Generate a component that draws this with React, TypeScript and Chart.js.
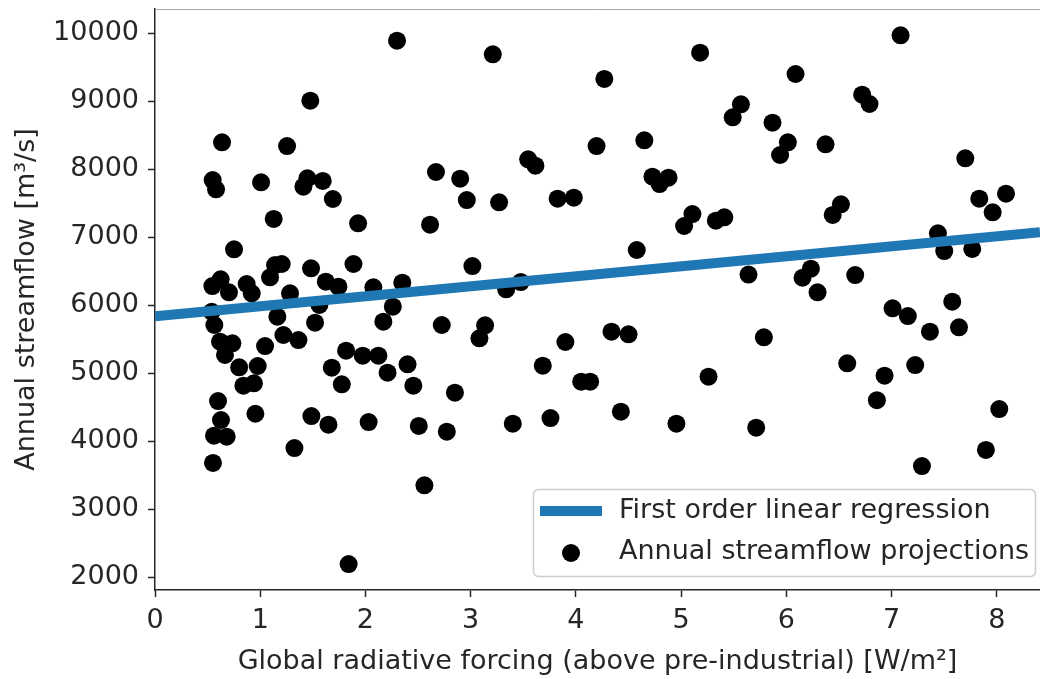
import React, { useEffect, useRef } from "react";
import { Chart, registerables } from "chart.js";

Chart.register(...registerables);

// Global radiative forcing above pre-industrial [W/m²]
const forcing = [
  2.3, 1.476, 0.637, 1.255, 2.67, 0.548, 0.58, 1.008, 1.448, 1.41, 1.594, 1.69,
  3.21, 5.18, 4.27, 5.568, 5.49, 4.196, 4.65, 3.546, 3.615, 2.9, 4.727, 4.88,
  4.795, 2.963, 3.27, 3.826, 3.98,
  7.085, 6.087, 6.72, 6.79, 5.868, 6.014, 5.94, 6.372, 7.7, 8.087, 7.833, 7.96,
  6.518, 6.44,
  7.44, 7.5, 7.766, 5.64, 6.233, 6.153, 6.296, 6.654, 7.009, 7.154, 7.576, 7.364,
  7.64, 5.786, 6.578, 6.933, 7.224, 6.86,
  5.713, 7.288, 7.896, 8.023,
  5.107, 5.028, 5.33, 5.41, 4.578, 3.016, 3.476, 3.337, 3.137, 3.083, 3.9, 4.338,
  4.5, 3.685, 4.05, 4.135, 5.26, 2.85,
  2.773, 3.4, 3.758, 4.427, 4.955,
  0.599, 0.627, 0.561, 0.681, 0.551, 0.954, 1.486, 1.648, 2.03, 1.325, 2.507,
  2.56, 1.84,
  1.128, 1.93, 2.614, 0.751, 0.545, 0.624, 0.703, 0.871, 0.919, 1.093, 1.141,
  1.204, 1.283, 1.483, 1.623, 1.743, 1.886, 2.075, 2.35, 2.26, 1.562, 0.539,
  0.564, 1.163, 1.521, 2.17, 2.725, 0.618, 0.735, 0.665, 1.046, 1.22, 1.363,
  0.8, 0.976, 0.84, 0.94, 1.68, 1.816, 1.974, 2.123, 2.21, 2.4, 2.455, 1.775,
];

// Annual streamflow [m³/s], paired with forcing above
const streamflow = [
  9887, 9004, 8393, 8338, 7956, 7838, 7701, 7804, 7863, 7740, 7824, 7559,
  9687, 9711, 9324, 8951, 8760, 8338, 8422, 8143, 8049, 7857, 7887, 7872,
  7779, 7544, 7510, 7564, 7578,
  9966, 9397, 9093, 8956, 8681, 8393, 8206, 8363, 8157, 7637, 7564, 7363,
  7480, 7324,
  7054, 6794, 6824, 6448, 6534, 6401, 6187, 6441, 5951, 5838, 6049, 5607,
  5672, 5525, 5143, 4960, 5117, 4600,
  4196, 3632, 3868, 4470,
  7338, 7162, 7240, 7290, 6809, 6573, 6338, 6231, 5701, 5510, 5456, 5607,
  5569, 5107, 4872, 4872, 4946, 4710,
  4137, 4255, 4338, 4431, 4255,
  4588, 4309, 4078, 4063, 3677, 4401, 4367, 4240, 4279, 3897, 4221,
  3348, 2191,
  7265, 7202, 7181, 6819, 6279, 6378, 6187, 6309, 6172, 6407, 6588,
  6603, 6172, 6540, 6343, 6269, 6603, 6260, 6328, 5975, 6000, 5901,
  5706, 5828, 5740, 5755, 5706, 5461, 5436, 5265, 5397, 5559, 5485,
  5084, 5103, 4813, 4848, 5078, 5328, 5255, 5255, 5005, 5128, 4813, 4834,
];

// First order regression: streamflow = intercept + slope * forcing
const fitIntercept = 5835;
const fitSlope = 147;

const xTicks = [0, 1, 2, 3, 4, 5, 6, 7, 8];
const yTicks = [2000, 3000, 4000, 5000, 6000, 7000, 8000, 9000, 10000];
const xRange = [0, 8.41];
const yRange = [1809, 10353];

const fitLabel = "First order linear regression";
const scatterLabel = "Annual streamflow projections";
const xTitle = "Global radiative forcing (above pre-industrial) [W/m²]";
const yTitle = "Annual streamflow [m³/s]";

const FONT = "DejaVu Sans";
const FONT_SIZE = 27;
const TEXT = "#262626";
const BLUE = "#1f77b4";

const insetLegend = {
  id: "insetLegend",
  afterDraw(chart: any) {
    const { ctx, chartArea } = chart;
    ctx.save();

    // upper frame edge
    ctx.strokeStyle = "#a8a8a8";
    ctx.lineWidth = 1;
    ctx.beginPath();
    ctx.moveTo(chartArea.left, chartArea.top + 0.5);
    ctx.lineTo(chartArea.right, chartArea.top + 0.5);
    ctx.stroke();

    // legend box, lower right
    const w = 502;
    const h = 87;
    const x0 = chartArea.right - 5 - w;
    const y0 = chartArea.bottom - 14 - h;
    ctx.beginPath();
    ctx.roundRect(x0 + 0.5, y0 + 0.5, w, h, 5);
    ctx.fillStyle = "rgba(255,255,255,0.8)";
    ctx.fill();
    ctx.strokeStyle = "#cccccc";
    ctx.lineWidth = 1.5;
    ctx.stroke();

    const ds = chart.data.datasets;
    const row1 = y0 + 22;
    const row2 = y0 + 63;

    ctx.strokeStyle = ds[0].borderColor;
    ctx.lineWidth = 10;
    ctx.lineCap = "butt";
    ctx.beginPath();
    ctx.moveTo(x0 + 7, row1);
    ctx.lineTo(x0 + 69, row1);
    ctx.stroke();

    ctx.fillStyle = ds[1].backgroundColor;
    ctx.beginPath();
    ctx.arc(x0 + 38, row2 + 1, 9, 0, Math.PI * 2);
    ctx.fill();

    ctx.fillStyle = TEXT;
    ctx.font = `${FONT_SIZE}px "${FONT}"`;
    ctx.textBaseline = "middle";
    ctx.textAlign = "left";
    ctx.fillText(ds[0].label, x0 + 86, row1);
    ctx.fillText(ds[1].label, x0 + 86, row2);
    ctx.restore();
  },
};

export default function App() {
  const canvasRef = useRef<HTMLCanvasElement | null>(null);

  useEffect(() => {
    document.body.style.margin = "0";
    const canvas = canvasRef.current;
    if (!canvas) return;

    const points = forcing.map((x, i) => ({ x, y: streamflow[i] }));
    const fitLine = xRange.map((x) => ({ x, y: fitIntercept + fitSlope * x }));

    const tickFont = { family: FONT, size: FONT_SIZE };

    const chart = new Chart(canvas, {
      type: "scatter",
      data: {
        datasets: [
          {
            label: fitLabel,
            data: fitLine,
            showLine: true,
            borderColor: BLUE,
            backgroundColor: BLUE,
            borderWidth: 10,
            pointRadius: 0,
            borderCapStyle: "butt",
          },
          {
            label: scatterLabel,
            data: points,
            backgroundColor: "#000000",
            borderColor: "#000000",
            borderWidth: 0,
            pointRadius: 9,
            pointHoverRadius: 9,
          },
        ],
      },
      options: {
        animation: false,
        responsive: true,
        maintainAspectRatio: false,
        events: [],
        layout: { autoPadding: false, padding: { top: 9, right: 0, left: 0, bottom: 0 } },
        plugins: {
          legend: { display: false },
          tooltip: { enabled: false },
        },
        scales: {
          x: {
            type: "linear",
            position: "bottom",
            min: xRange[0],
            max: xRange[1],
            afterBuildTicks: (scale: any) => {
              scale.ticks = xTicks.map((value) => ({ value }));
            },
            afterFit: (scale: any) => {
              scale.height = 89;
              scale.paddingLeft = 0;
              scale.paddingRight = 0;
            },
            ticks: {
              font: tickFont,
              color: TEXT,
              padding: 8,
              maxRotation: 0,
              autoSkip: false,
              callback: (v: any) => String(v),
            },
            grid: {
              drawOnChartArea: false,
              drawTicks: true,
              tickLength: 7,
              tickWidth: 1.5,
              tickColor: TEXT,
            },
            border: { display: true, color: TEXT, width: 1.5 },
            title: {
              display: true,
              text: xTitle,
              font: tickFont,
              color: TEXT,
              padding: { top: 0, bottom: 1 },
            },
          },
          y: {
            type: "linear",
            min: yRange[0],
            max: yRange[1],
            afterBuildTicks: (scale: any) => {
              scale.ticks = yTicks.map((value) => ({ value }));
            },
            afterFit: (scale: any) => {
              scale.width = 155;
              scale.paddingTop = 0;
              scale.paddingBottom = 0;
            },
            ticks: {
              font: tickFont,
              color: TEXT,
              padding: 9,
              autoSkip: false,
              callback: (v: any) => String(v),
            },
            grid: {
              drawOnChartArea: false,
              drawTicks: true,
              tickLength: 7,
              tickWidth: 1.5,
              tickColor: TEXT,
            },
            border: { display: true, color: TEXT, width: 1.5 },
            title: {
              display: true,
              text: yTitle,
              font: tickFont,
              color: TEXT,
              padding: { top: 11, bottom: 0 },
            },
          },
        },
      },
      plugins: [insetLegend],
    });

    return () => chart.destroy();
  }, []);

  return (
    <div style={{ position: "relative", width: 1040, height: 679 }}>
      <canvas ref={canvasRef} />
    </div>
  );
}
